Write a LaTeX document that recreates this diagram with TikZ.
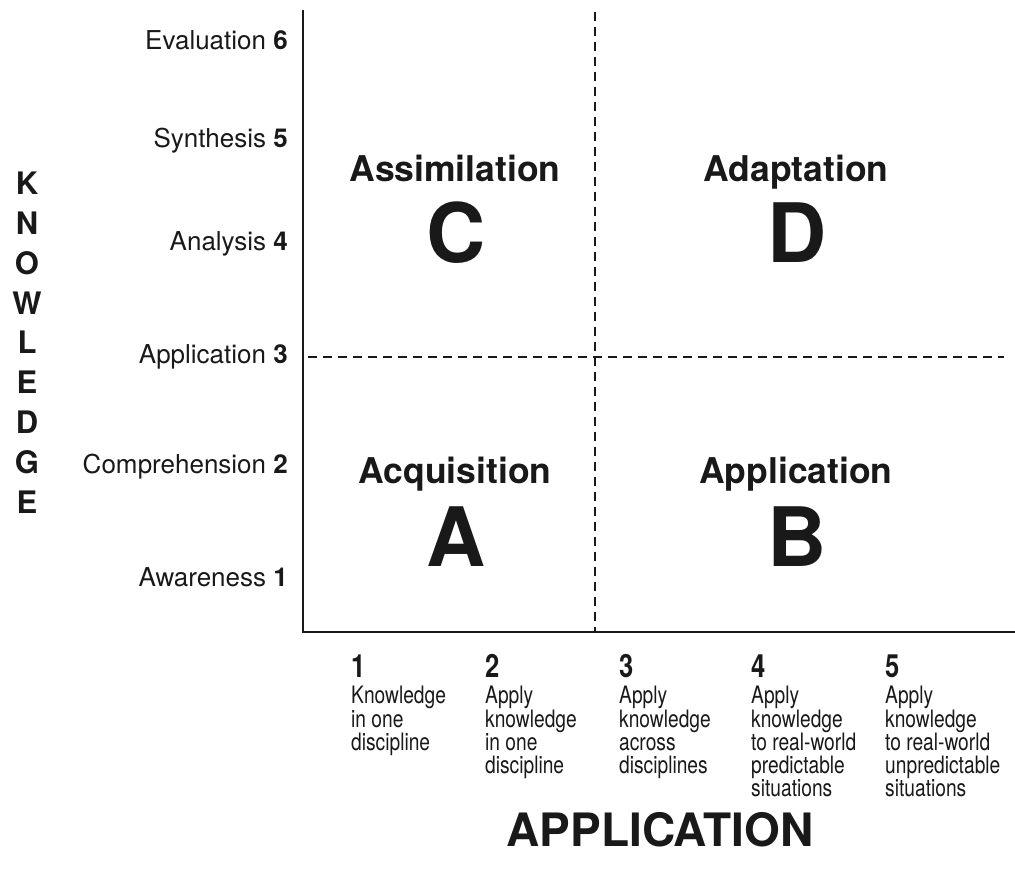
\documentclass[tikz,border=0pt]{standalone}
\usepackage{fontspec}
\setmainfont{TeX Gyre Heros}
\newfontfamily\condfont[FakeStretch=0.8]{TeX Gyre Heros}
\begin{document}
\begin{tikzpicture}[x=1pt,y=-1pt,
  ink/.style={color=black!90},
  lvl/.style={ink,anchor=east,inner sep=0pt,font=\fontsize{26}{30}\selectfont},
  kl/.style={ink,inner sep=0pt,font=\fontsize{31}{34}\selectfont\bfseries},
  qname/.style={ink,anchor=base,inner sep=0pt,font=\fontsize{35.5}{40}\selectfont\bfseries},
  qletter/.style={ink,inner sep=0pt,font=\fontsize{82}{90}\selectfont\bfseries},
  anum/.style={ink,anchor=base west,inner sep=0pt,font=\condfont\fontsize{32}{34}\selectfont\bfseries},
  adesc/.style={ink,anchor=north west,inner sep=0pt,align=left,font=\condfont\fontsize{24}{23.3}\selectfont},
  axis/.style={draw=black!90,line width=2.4pt},
  grid/.style={draw=black!90,line width=2pt,dash pattern=on 9pt off 6pt}]
\useasboundingbox (0,0) rectangle (1015,876);
% axes
\coordinate (top) at (303,10);
\coordinate (origin) at (303,632);
\coordinate (right) at (1015,632);
\draw[axis] (top) -- (origin) -- (right);
% dashed dividers
\coordinate (vt) at (595,12);
\coordinate (vb) at (595,632);
\coordinate (hl) at (308,357);
\coordinate (hr) at (1004,357);
\draw[grid] (vt) -- (vb);
\draw[grid] (hl) -- (hr);
% knowledge levels
\node[lvl] (l6) at (288,40) {Evaluation \textbf{6}};
\node[lvl] (l5) at (288,141) {Synthesis \textbf{5}};
\node[lvl] (l4) at (288,244) {Analysis \textbf{4}};
\node[lvl] (l3) at (288,357) {Application \textbf{3}};
\node[lvl] (l2) at (288,467) {Comprehension \textbf{2}};
\node[lvl] (l1) at (288,577) {Awareness \textbf{1}};
% KNOWLEDGE vertical
\node[kl] (k1) at (27,183) {K};
\node[kl] (k2) at (27,223) {N};
\node[kl] (k3) at (27,263) {O};
\node[kl] (k4) at (27,303) {W};
\node[kl] (k5) at (27,342) {L};
\node[kl] (k6) at (27,382) {E};
\node[kl] (k7) at (27,422) {D};
\node[kl] (k8) at (27,462) {G};
\node[kl] (k9) at (27,502) {E};
% quadrants
\node[qname] (qc) at (455,181) {Assimilation};
\node[qletter] (lc) at (456,233) {C};
\node[qname] (qd) at (796,181) {Adaptation};
\node[qletter] (ld) at (797,233) {D};
\node[qname] (qa) at (455,483) {Acquisition};
\node[qletter] (la) at (456,537) {A};
\node[qname] (qb) at (796,483) {Application};
\node[qletter] (lb) at (797,537) {B};
% application levels
\node[anum] (n1) at (351,677) {1};
\node[anum] (n2) at (485,677) {2};
\node[anum] (n3) at (619,677) {3};
\node[anum] (n4) at (751,677) {4};
\node[anum] (n5) at (885,677) {5};
\node[adesc] (d1) at (351,686) {Knowledge\\in one\\discipline};
\node[adesc] (d2) at (485,686) {Apply\\knowledge\\in one\\discipline};
\node[adesc] (d3) at (619,686) {Apply\\knowledge\\across\\disciplines};
\node[adesc] (d4) at (751,686) {Apply\\knowledge\\to real-world\\predictable\\situations};
\node[adesc] (d5) at (885,686) {Apply\\knowledge\\to real-world\\unpredictable\\situations};
\node[ink,inner sep=0pt,font=\fontsize{46}{50}\selectfont\bfseries] (app) at (660,830) {APPLICATION};
\end{tikzpicture}
\end{document}
